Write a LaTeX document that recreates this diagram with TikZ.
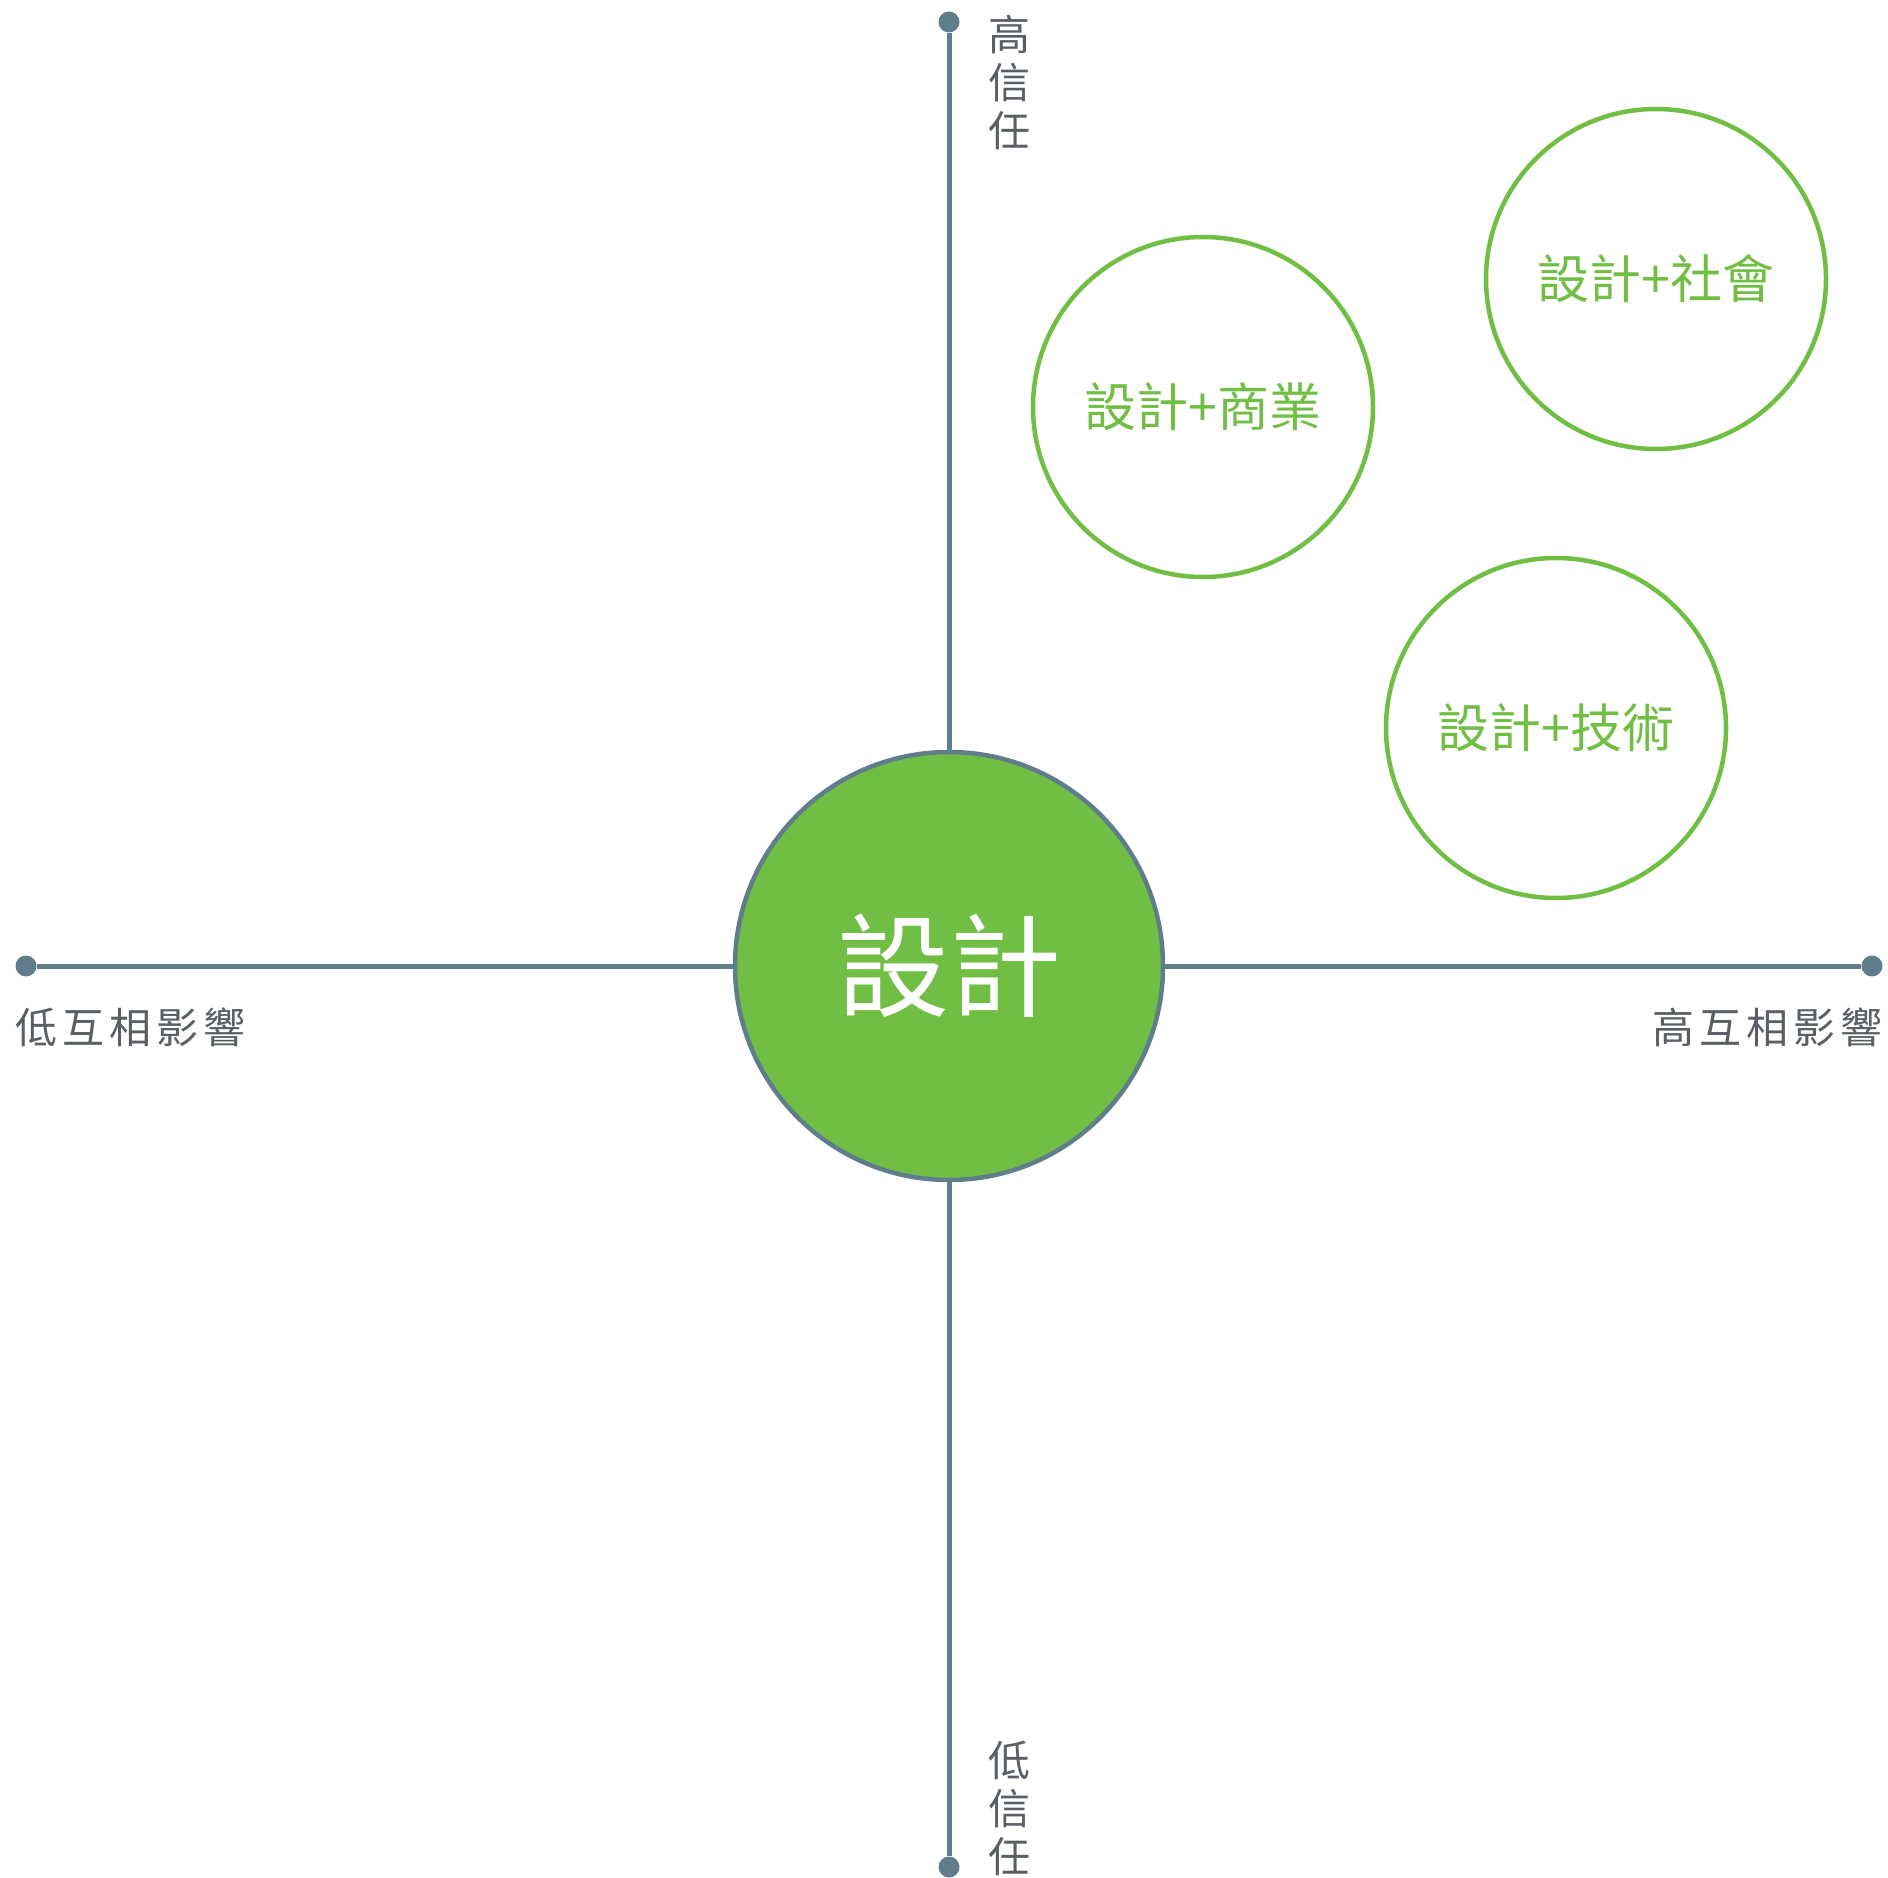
\documentclass[tikz,border=0pt]{standalone}
\usepackage{fontspec}
\setmainfont{Noto Sans CJK TC}
\definecolor{axisc}{HTML}{607D8B}
\definecolor{greenc}{HTML}{70BF44}
\definecolor{labelc}{HTML}{5A5F66}
\begin{document}
\begin{tikzpicture}[x=1pt,y=-1pt,
  dotend/.style={circle,fill=axisc,inner sep=0pt,minimum size=21pt},
  axisline/.style={draw=axisc,line width=5pt},
  core/.style={circle,fill=greenc,draw=axisc,line width=4.5pt,minimum size=428pt,inner sep=0pt,text=white,font=\fontsize{112}{120}\selectfont},
  bubble/.style={circle,draw=greenc,line width=4.5pt,minimum size=340pt,inner sep=0pt,text=greenc,font=\fontsize{52}{58}\selectfont},
  vlabel/.style={text=labelc,align=center,inner sep=0pt,font=\fontsize{42}{48}\selectfont},
  hlabel/.style={text=labelc,inner sep=0pt,font=\fontsize{42}{48}\selectfont}]
\useasboundingbox (0,0) rectangle (1888,1878);
\node[dotend] (top) at (949,22) {};
\node[dotend] (bottom) at (949,1867) {};
\node[dotend] (left) at (26,966) {};
\node[dotend] (right) at (1872,966) {};
\node[core] (c) at (949,966) {設計};
\draw[axisline] (top) -- (c);
\draw[axisline] (c) -- (bottom);
\draw[axisline] (left) -- (c);
\draw[axisline] (c) -- (right);
\node[bubble] (b1) at (1203,407) {設計+商業};
\node[bubble] (b2) at (1656,279) {設計+社會};
\node[bubble] (b3) at (1556,728) {設計+技術};
\node[vlabel] (lt) at (1009,82) {高\\信\\任};
\node[vlabel] (lb) at (1009,1808) {低\\信\\任};
\node[hlabel,anchor=west] (ll) at (15,1027) {低\hspace{5pt}互\hspace{5pt}相\hspace{5pt}影\hspace{5pt}響};
\node[hlabel,anchor=east] (lr) at (1883,1027) {高\hspace{5pt}互\hspace{5pt}相\hspace{5pt}影\hspace{5pt}響};
\end{tikzpicture}
\end{document}
